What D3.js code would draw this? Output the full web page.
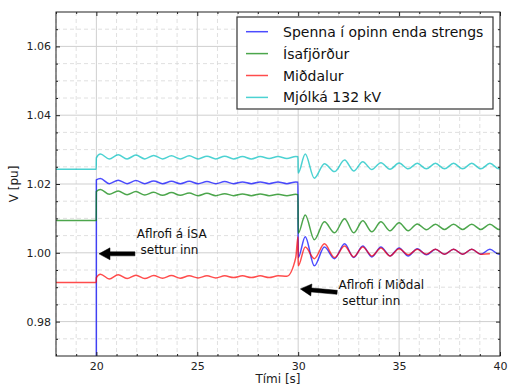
<!DOCTYPE html>
<html>
<head>
<meta charset="utf-8">
<script src="https://cdn.jsdelivr.net/npm/d3@7"></script>
<style>
  html, body { margin: 0; padding: 0; background: #fff; }
  svg { display: block; font-family: "DejaVu Sans", sans-serif; }
</style>
</head>
<body>
<svg id="chart" width="508" height="385"></svg>
<script>
// Simulation time samples [s] (step instants and oscillation extrema)
const time = [18, 19.99, 20, 20.2, 20.64, 21.08, 21.52, 21.96, 22.4, 22.84, 23.28, 23.72, 24.16, 24.6, 25.04, 25.48, 25.92, 26.36, 26.8, 27.24, 27.68, 28.12, 28.56, 29.0, 29.44, 29.88, 29.99, 30.0, 30.35, 30.8, 31.3, 31.8, 32.3, 32.75, 33.2, 33.65, 34.1, 34.55, 35.0, 35.45, 35.9, 36.35, 36.8, 37.25, 37.7, 38.15, 38.6, 39.05, 39.5, 39.95, 40];

// Voltage [pu] at each time sample
const spenna = [0, 0, 1.0212,
  1.0216, 1.0201, 1.0211, 1.0201, 1.0210, 1.0201, 1.0209, 1.0201, 1.0208, 1.0201, 1.0208, 1.0201, 1.0207, 1.0201, 1.0207, 1.0201, 1.0206, 1.0201, 1.0206, 1.0201, 1.0206, 1.0201, 1.0206,
  1.0205, 0.9986,
  1.0047, 0.9962, 1.0017, 0.9983, 1.0026, 0.9986, 1.0020, 0.9988, 1.0017, 0.9991, 1.0014, 0.9991, 1.0012, 0.9994, 1.0010, 0.9996, 1.0010, 0.9996, 1.0010, 0.9996, 1.0010, 0.9996,
  0.9997];

const isafjordur = [1.0094, 1.0094, 1.0178,
  1.0184, 1.0170, 1.0180, 1.0169, 1.0178, 1.0168, 1.0176, 1.0167, 1.0175, 1.0167, 1.0174, 1.0166, 1.0173, 1.0166, 1.0172, 1.0166, 1.0171, 1.0166, 1.0171, 1.0166, 1.0170, 1.0166, 1.0170,
  1.0169, 1.0057,
  1.0110, 1.0038, 1.0090, 1.0058, 1.0099, 1.0058, 1.0093, 1.0061, 1.0090, 1.0064, 1.0087, 1.0064, 1.0084, 1.0067, 1.0083, 1.0068, 1.0083, 1.0068, 1.0083, 1.0068, 1.0083, 1.0068,
  1.0069];

const midalur = [0.9914, 0.9914, 0.9928,
  0.9938, 0.9924, 0.9936, 0.9925, 0.9935, 0.9925, 0.9934, 0.9926, 0.9934, 0.9926, 0.9933, 0.9927, 0.9933, 0.9927, 0.9933, 0.9928, 0.9933, 0.9928, 0.9933, 0.9928, 0.9933,
  0.9932, 0.9986,
  1.0047, 0.9962, 1.0017, 0.9983, 1.0026, 0.9986, 1.0020, 0.9988, 1.0017, 0.9991, 1.0014, 0.9991, 1.0012, 0.9994, 1.0010, 0.9996, 1.0010, 0.9996, 1.0010, 0.9996, 1.0010, 0.9996,
  0.9997];

const mjolka = [1.0243, 1.0243, 1.0276,
  1.0287, 1.0273, 1.0285, 1.0273, 1.0284, 1.0273, 1.0283, 1.0273, 1.0282, 1.0273, 1.0282, 1.0273, 1.0281, 1.0273, 1.0281, 1.0273, 1.0280, 1.0273, 1.0280, 1.0274, 1.0280, 1.0274, 1.0280,
  1.0279, 1.0232,
  1.0287, 1.0217, 1.0259, 1.0236, 1.0270, 1.0238, 1.0265, 1.0242, 1.0262, 1.0243, 1.0261, 1.0244, 1.0260, 1.0244, 1.0260, 1.0244, 1.0260, 1.0244, 1.0260, 1.0244, 1.0260, 1.0244,
  1.0245];

const seriesNames = ["Spenna í opinn enda strengs", "Ísafjörður", "Miðdalur", "Mjólká 132 kV"];
const seriesColors = ["#0000ff", "#008000", "#ff0000", "#00bfbf"];

const xTicks = [20, 25, 30, 35, 40];
const yTicks = [0.98, 1.00, 1.02, 1.04, 1.06];
const xMinorTicks = [18, 19, 21, 22, 23, 24, 26, 27, 28, 29, 31, 32, 33, 34, 36, 37, 38, 39];
const yMinorTicks = [0.975, 0.985, 0.99, 0.995, 1.005, 1.01, 1.015, 1.025, 1.03, 1.035, 1.045, 1.05, 1.055, 1.065];

// Annotation texts and arrows, in data units
const annotationLines = [["Aflrofi á ÍSA", " settur inn"], ["Aflrofi í Miðdal", " settur inn"]];
const annotationText = [[22, 1.0044], [32, 0.9894]];
const arrowTail = [[21.91, 0.9997], [31.93, 0.9885]];
const arrowTip = [[20.13, 0.9997], [30.11, 0.9895]];

// ---- layout ----
const W = 508, H = 385;
const m = { left: 56, top: 12, right: 8, bottom: 29 };
const pw = W - m.left - m.right, ph = H - m.top - m.bottom;

const svg = d3.select("#chart");
const x = d3.scaleLinear().domain([18, 40]).range([m.left, m.left + pw]);
const y = d3.scaleLinear().domain([0.97, 1.07]).range([m.top + ph, m.top]);

svg.append("rect").attr("width", W).attr("height", H).attr("fill", "#fff");

// grid
const grid = svg.append("g");
grid.selectAll(".gxm").data(xMinorTicks).join("line")
  .attr("x1", d => x(d)).attr("x2", d => x(d)).attr("y1", m.top).attr("y2", m.top + ph)
  .attr("stroke", "#d8d8d8").attr("stroke-width", 0.8).attr("stroke-dasharray", "4,3");
grid.selectAll(".gym").data(yMinorTicks).join("line")
  .attr("y1", d => y(d)).attr("y2", d => y(d)).attr("x1", m.left).attr("x2", m.left + pw)
  .attr("stroke", "#d8d8d8").attr("stroke-width", 0.8).attr("stroke-dasharray", "4,3");
grid.selectAll(".gx").data(xTicks).join("line")
  .attr("x1", d => x(d)).attr("x2", d => x(d)).attr("y1", m.top).attr("y2", m.top + ph)
  .attr("stroke", "#cfcfcf").attr("stroke-width", 1);
grid.selectAll(".gy").data(yTicks).join("line")
  .attr("y1", d => y(d)).attr("y2", d => y(d)).attr("x1", m.left).attr("x2", m.left + pw)
  .attr("stroke", "#cfcfcf").attr("stroke-width", 1);

// series lines
svg.append("defs").append("clipPath").attr("id", "plotclip")
  .append("rect").attr("x", m.left).attr("y", m.top).attr("width", pw).attr("height", ph);

const seriesValues = [spenna, isafjordur, midalur, mjolka];
const line = d3.line().x(d => x(d[0])).y(d => y(d[1])).curve(d3.curveMonotoneX);
const lines = svg.append("g").attr("clip-path", "url(#plotclip)");
seriesValues.forEach((vals, i) => {
  const pts = time.map((t, j) => [t, vals[j]]);
  lines.append("path").datum(pts)
    .attr("d", line)
    .attr("fill", "none")
    .attr("stroke", seriesColors[i])
    .attr("stroke-opacity", 0.7)
    .attr("stroke-width", 1.5)
    .attr("stroke-linejoin", "round");
});

// axes: ticks point inward on all four sides
function styleAxis(g) {
  g.select(".domain").remove();
  g.selectAll(".tick line").attr("stroke", "#222");
  g.selectAll(".tick text").attr("fill", "#222").attr("font-size", 11).attr("font-family", "DejaVu Sans");
}
svg.append("g").attr("transform", `translate(0,${m.top + ph})`)
  .call(d3.axisBottom(x).tickValues(xTicks).tickSize(-4).tickPadding(6).tickFormat(d3.format("d"))).call(styleAxis);
svg.append("g").attr("transform", `translate(0,${m.top + ph})`)
  .call(d3.axisBottom(x).tickValues(xMinorTicks).tickSize(-2).tickFormat("")).call(styleAxis);
svg.append("g").attr("transform", `translate(0,${m.top})`)
  .call(d3.axisTop(x).tickValues(xTicks).tickSize(-4).tickFormat("")).call(styleAxis);
svg.append("g").attr("transform", `translate(0,${m.top})`)
  .call(d3.axisTop(x).tickValues(xMinorTicks).tickSize(-2).tickFormat("")).call(styleAxis);
svg.append("g").attr("transform", `translate(${m.left},0)`)
  .call(d3.axisLeft(y).tickValues(yTicks).tickSize(-4).tickPadding(5).tickFormat(d3.format(".2f"))).call(styleAxis);
svg.append("g").attr("transform", `translate(${m.left},0)`)
  .call(d3.axisLeft(y).tickValues(yMinorTicks).tickSize(-2).tickFormat("")).call(styleAxis);
svg.append("g").attr("transform", `translate(${m.left + pw},0)`)
  .call(d3.axisRight(y).tickValues(yTicks).tickSize(-4).tickFormat("")).call(styleAxis);
svg.append("g").attr("transform", `translate(${m.left + pw},0)`)
  .call(d3.axisRight(y).tickValues(yMinorTicks).tickSize(-2).tickFormat("")).call(styleAxis);

// frame
svg.append("rect").attr("x", m.left).attr("y", m.top).attr("width", pw).attr("height", ph)
  .attr("fill", "none").attr("stroke", "#222").attr("stroke-width", 1);

// axis titles
svg.append("text").attr("x", m.left + pw / 2).attr("y", 382.5)
  .attr("text-anchor", "middle").attr("font-size", 12).attr("fill", "#222").text("Tími [s]");
svg.append("text").attr("transform", `translate(17.5,${m.top + ph / 2}) rotate(-90)`)
  .attr("text-anchor", "middle").attr("font-size", 12).attr("fill", "#222").text("V [pu]");

// annotations
function arrowPolygon(p0, p1, w, hw, hl) {
  const dx = p1[0] - p0[0], dy = p1[1] - p0[1];
  const L = Math.hypot(dx, dy), ux = dx / L, uy = dy / L, nx = -uy, ny = ux;
  const nk = [p1[0] - ux * hl, p1[1] - uy * hl];
  return [
    [p0[0] + nx * w / 2, p0[1] + ny * w / 2],
    [nk[0] + nx * w / 2, nk[1] + ny * w / 2],
    [nk[0] + nx * hw / 2, nk[1] + ny * hw / 2],
    p1,
    [nk[0] - nx * hw / 2, nk[1] - ny * hw / 2],
    [nk[0] - nx * w / 2, nk[1] - ny * w / 2],
    [p0[0] - nx * w / 2, p0[1] - ny * w / 2]
  ];
}
const ann = svg.append("g");
annotationLines.forEach((txt, i) => {
  const t = ann.append("text")
    .attr("x", x(annotationText[i][0])).attr("y", y(annotationText[i][1]))
    .attr("font-size", 12).attr("fill", "#111").style("white-space", "pre");
  txt.forEach((s, k) => {
    t.append("tspan").attr("x", x(annotationText[i][0])).attr("dy", k === 0 ? 0 : 16).text(s);
  });
  const p0 = [x(arrowTail[i][0]), y(arrowTail[i][1])];
  const p1 = [x(arrowTip[i][0]), y(arrowTip[i][1])];
  ann.append("polygon")
    .attr("points", arrowPolygon(p0, p1, 4, 12, 11).map(p => p.join(",")).join(" "))
    .attr("fill", "#000").attr("stroke", "#000").attr("stroke-width", 0.5);
});

// legend
const lg = svg.append("g");
lg.append("rect").attr("x", 237).attr("y", 17).attr("width", 256).attr("height", 92)
  .attr("fill", "#fff").attr("stroke", "#333").attr("stroke-width", 1.2);
seriesNames.forEach((name, i) => {
  const cy = 31.7 + i * 21.9;
  lg.append("line").attr("x1", 246).attr("x2", 268).attr("y1", cy).attr("y2", cy)
    .attr("stroke", seriesColors[i]).attr("stroke-opacity", 0.7).attr("stroke-width", 1.5);
  lg.append("text").attr("x", 283).attr("y", cy + 5).attr("font-size", 14).attr("fill", "#111").text(name);
});
</script>
</body>
</html>
